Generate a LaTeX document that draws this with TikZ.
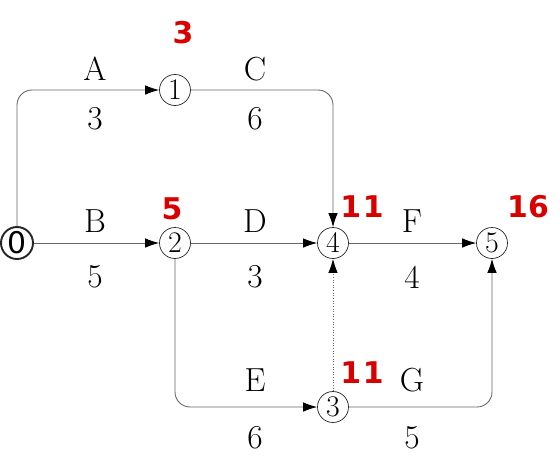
\documentclass[tikz,border=0pt]{standalone}
\usepackage{fontspec}
\newfontfamily\redfont{DejaVu Sans}
\usetikzlibrary{arrows.meta}
\tikzset{
  event/.style={draw=black!85, circle, minimum size=0.62cm, inner sep=0pt, font=\fontsize{17}{17}\selectfont},
  act/.style={draw=black!60, line width=0.5pt, -{Latex[length=2.8mm,width=1.9mm,fill=black,color=black]}},
  lbl/.style={font=\fontsize{19}{19}\selectfont},
  tm/.style={text=red!85!black, font=\redfont\bfseries\fontsize{17}{17}\selectfont}
}
\begin{document}
\begin{tikzpicture}
			\useasboundingbox (0,0) rectangle (11.2,9.4);
			\node[event, line width=1.1pt, minimum size=0.64cm] (n0) at (0.34,4.54) {\redfont 0};
			\node[event] (n1) at (3.5,7.6) {1};
			\node[event] (n2) at (3.5,4.54) {2};
			\node[event] (n4) at (6.66,4.54) {4};
			\node[event] (n5) at (9.84,4.54) {5};
			\node[event] (n3) at (6.66,1.26) {3};
			
			\draw[act, rounded corners=0.3cm] (n0) |- (n1);
			\draw[act, rounded corners=0.3cm] (n1) -| (n4);
			\draw[act] (n0) -- (n2);
			\draw[act] (n2) -- (n4);
			\draw[act] (n4) -- (n5);
			\draw[act, rounded corners=0.3cm] (n2) |- (n3);
			\draw[act, rounded corners=0.3cm] (n3) -| (n5);
			\draw[act, densely dotted] (n3) -- (n4);
			
			\node[lbl] (la) at (1.9,8.02) {A};
			\node[lbl] (da) at (1.9,7.02) {3};
			\node[lbl] (lc) at (5.1,8.02) {C};
			\node[lbl] (dc) at (5.1,7.02) {6};
			\node[lbl] (lb) at (1.9,4.98) {B};
			\node[lbl] (db) at (1.9,3.86) {5};
			\node[lbl] (ld) at (5.1,4.98) {D};
			\node[lbl] (dd) at (5.1,3.86) {3};
			\node[lbl] (lf) at (8.24,4.98) {F};
			\node[lbl] (df) at (8.24,3.86) {4};
			\node[lbl] (le) at (5.1,1.8) {E};
			\node[lbl] (de) at (5.1,0.64) {6};
			\node[lbl] (lg) at (8.24,1.8) {G};
			\node[lbl] (dg) at (8.24,0.64) {5};
			
			\node[tm] (t1) at (3.66,8.74) {3};
			\node[tm] (t2) at (3.44,5.22) {5};
			\node[tm] (t4) at (7.24,5.26) {1\kern1pt1};
			\node[tm] (t5) at (10.56,5.26) {16};
			\node[tm] (t3) at (7.24,1.94) {1\kern1pt1};
		\end{tikzpicture}
\end{document}
